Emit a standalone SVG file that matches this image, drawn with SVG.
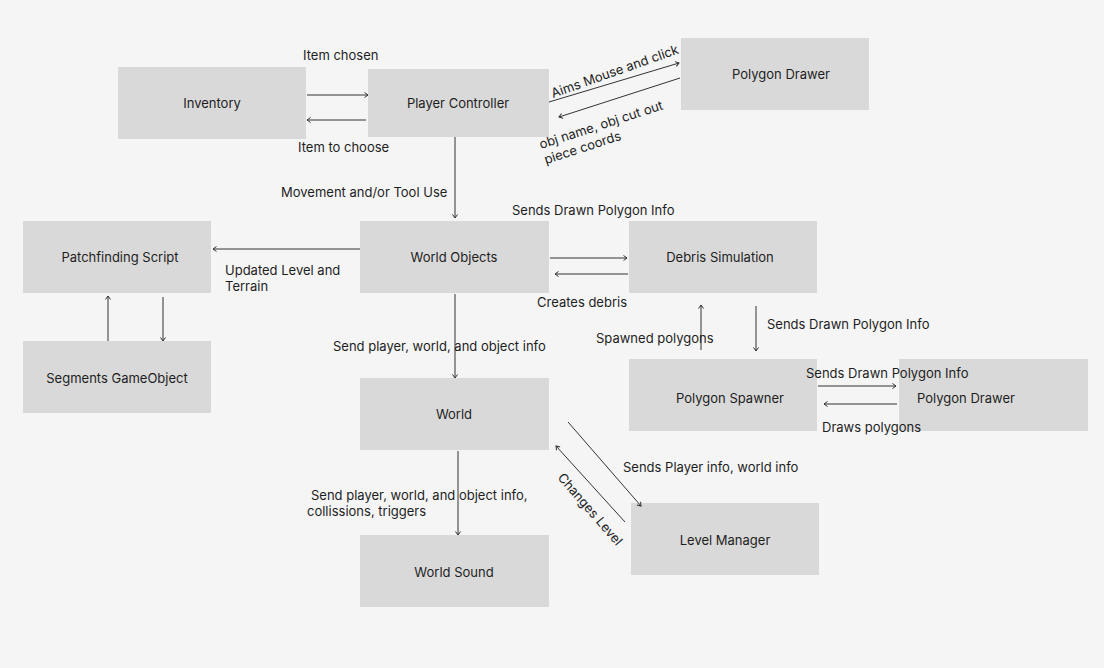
<svg xmlns="http://www.w3.org/2000/svg" width="1104" height="668" viewBox="0 0 1104 668">
<style>
.box{fill:#d9d9d9}
.t{font-family:Inter,"Noto Sans","Liberation Sans",sans-serif;font-size:13px;fill:#1e1e1e}
.c{text-anchor:middle;dominant-baseline:central}
.ln{stroke:#333;stroke-width:1;fill:none;marker-end:url(#ah)}
</style>
<defs>
<marker id="ah" markerWidth="8" markerHeight="8" refX="4" refY="3" orient="auto" markerUnits="userSpaceOnUse">
<path d="M0.5,0.5 L4,3 L0.5,5.5" fill="none" stroke="#333" stroke-width="1"/>
</marker>
</defs>
<rect width="1104" height="668" fill="#f5f5f5"/>
<g id="inventory"><rect class="box" x="118" y="67" width="188" height="72"/><text class="t c" x="212" y="103">Inventory</text></g>
<g id="player-controller"><rect class="box" x="368" y="69" width="181" height="68"/><text class="t c" x="458" y="103">Player Controller</text></g>
<g id="polygon-drawer-top"><rect class="box" x="681" y="38" width="188" height="72"/><text class="t c" x="781" y="74">Polygon Drawer</text></g>
<g id="patchfinding"><rect class="box" x="23" y="221" width="188" height="72"/><text class="t c" x="120" y="257">Patchfinding Script</text></g>
<g id="world-objects"><rect class="box" x="360" y="221" width="189" height="72"/><text class="t c" x="454" y="257">World Objects</text></g>
<g id="debris"><rect class="box" x="629" y="221" width="188" height="72"/><text class="t c" x="720" y="257">Debris Simulation</text></g>
<g id="segments"><rect class="box" x="23" y="341" width="188" height="72"/><text class="t c" x="117" y="378">Segments GameObject</text></g>
<g id="world"><rect class="box" x="360" y="378" width="189" height="72"/><text class="t c" x="454" y="414">World</text></g>
<g id="polygon-spawner"><rect class="box" x="629" y="359" width="188" height="72"/><text class="t c" x="730" y="398">Polygon Spawner</text></g>
<g id="polygon-drawer-right"><rect class="box" x="899" y="359" width="189" height="72"/><text class="t c" x="966" y="398">Polygon Drawer</text></g>
<g id="level-manager"><rect class="box" x="631" y="503" width="188" height="72"/><text class="t c" x="725" y="540">Level Manager</text></g>
<g id="world-sound"><rect class="box" x="360" y="535" width="189" height="72"/><text class="t c" x="454" y="572">World Sound</text></g>
<g id="connectors">
<line class="ln" x1="307" y1="95" x2="368" y2="95"/>
<line class="ln" x1="366" y1="120" x2="307" y2="120"/>
<line class="ln" x1="549" y1="102" x2="679" y2="63"/>
<line class="ln" x1="680" y1="78" x2="559" y2="117"/>
<line class="ln" x1="455" y1="137" x2="455" y2="218"/>
<line class="ln" x1="360" y1="249" x2="213" y2="249"/>
<line class="ln" x1="550" y1="258" x2="627" y2="258"/>
<line class="ln" x1="628" y1="274" x2="555" y2="274"/>
<line class="ln" x1="108" y1="341" x2="108" y2="296"/>
<line class="ln" x1="163" y1="297" x2="163" y2="341"/>
<line class="ln" x1="701" y1="350" x2="701" y2="305"/>
<line class="ln" x1="756" y1="306" x2="756" y2="351"/>
<line class="ln" x1="455" y1="294" x2="455" y2="378"/>
<line class="ln" x1="818" y1="386" x2="896" y2="386"/>
<line class="ln" x1="897" y1="404" x2="824" y2="404"/>
<line class="ln" x1="568" y1="422" x2="641" y2="506"/>
<line class="ln" x1="625" y1="522" x2="556" y2="446"/>
<line class="ln" x1="458" y1="451" x2="458" y2="535"/>
</g>
<g id="labels">
<text class="t" x="303" y="60">Item chosen</text>
<text class="t" x="298" y="152">Item to choose</text>
<text class="t" transform="translate(553,98) rotate(-19.5)">Aims Mouse and click</text>
<text class="t" transform="translate(541,149) rotate(-18)"><tspan x="0" y="0">obj name, obj cut out</tspan><tspan x="0" y="16">piece coords</tspan></text>
<text class="t" x="281" y="197">Movement and/or Tool Use</text>
<text class="t" x="512" y="215">Sends Drawn Polygon Info</text>
<text class="t" x="225" y="275">Updated Level and</text>
<text class="t" x="225" y="291">Terrain</text>
<text class="t" x="537" y="307">Creates debris</text>
<text class="t" x="767" y="329">Sends Drawn Polygon Info</text>
<text class="t" x="596" y="343">Spawned polygons</text>
<text class="t" x="333" y="351">Send player, world, and object info</text>
<text class="t" x="806" y="378">Sends Drawn Polygon Info</text>
<text class="t" x="822" y="432">Draws polygons</text>
<text class="t" x="623" y="472">Sends Player info, world info</text>
<text class="t" transform="translate(557,478) rotate(49)">Changes Level</text>
<text class="t" x="311" y="500">Send player, world, and object info,</text>
<text class="t" x="307" y="516">collissions, triggers</text>
</g>
</svg>
